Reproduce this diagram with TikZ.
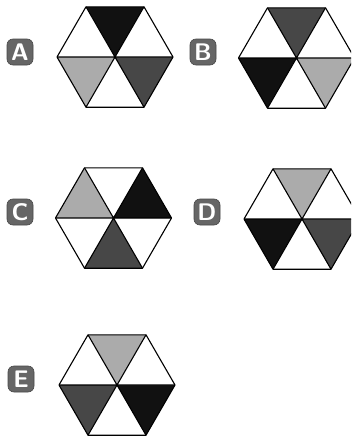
\documentclass[tikz,border=0pt]{standalone}
\usepackage{tikz}
\definecolor{blk}{HTML}{111111}
\definecolor{dgray}{HTML}{474747}
\definecolor{lgray}{HTML}{ABABAB}
\definecolor{boxgray}{HTML}{666666}
\tikzset{
  x=1pt, y=-1pt,
  edge/.style={draw=black, line width=1.1pt, line join=round},
  lab/.style={fill=boxgray, draw=boxgray!70!black, line width=0.6pt, rounded corners=6pt,
    minimum width=26pt, minimum height=26pt, inner sep=0pt, text=white,
    font=\sffamily\bfseries\fontsize{24}{24}\selectfont}
}
% #1 name, #2 center, #3..#8 fills: top, upper-left, lower-left, bottom, lower-right, upper-right
\newcommand{\hexfig}[8]{%
  \coordinate (#1) at #2;
  \coordinate (#1-0) at ($(#1)+(58,0)$);
  \coordinate (#1-60) at ($(#1)+(29,-50.2)$);
  \coordinate (#1-120) at ($(#1)+(-29,-50.2)$);
  \coordinate (#1-180) at ($(#1)+(-58,0)$);
  \coordinate (#1-240) at ($(#1)+(-29,50.2)$);
  \coordinate (#1-300) at ($(#1)+(29,50.2)$);
  \fill[#3] (#1) -- (#1-60) -- (#1-120) -- cycle;
  \fill[#4] (#1) -- (#1-120) -- (#1-180) -- cycle;
  \fill[#5] (#1) -- (#1-180) -- (#1-240) -- cycle;
  \fill[#6] (#1) -- (#1-240) -- (#1-300) -- cycle;
  \fill[#7] (#1) -- (#1-300) -- (#1-0) -- cycle;
  \fill[#8] (#1) -- (#1-0) -- (#1-60) -- cycle;
  \draw[edge] (#1-0) -- (#1-60) -- (#1-120) -- (#1-180) -- (#1-240) -- (#1-300) -- cycle;
  \draw[edge] (#1-0) -- (#1-180) (#1-60) -- (#1-240) (#1-120) -- (#1-300);
}
\usetikzlibrary{calc}
\begin{document}
\begin{tikzpicture}
\useasboundingbox (0,0) rectangle (351,439);
\clip (0,0) rectangle (351,439);
\fill[white] (0,0) rectangle (351,439);
\hexfig{A}{(115,57)}{blk}{white}{lgray}{white}{dgray}{white}
\hexfig{B}{(296.5,58)}{dgray}{white}{blk}{white}{lgray}{white}
\hexfig{C}{(113.5,218)}{white}{lgray}{white}{dgray}{white}{blk}
\hexfig{D}{(302,219)}{lgray}{white}{blk}{white}{dgray}{white}
\hexfig{E}{(117,385)}{lgray}{white}{dgray}{white}{blk}{white}
\node[lab] (la) at (20,52) {A};
\node[lab] (lb) at (203,52) {B};
\node[lab] (lc) at (20,212) {C};
\node[lab] (ld) at (207,212) {D};
\node[lab] (le) at (21,379) {E};
\end{tikzpicture}
\end{document}
